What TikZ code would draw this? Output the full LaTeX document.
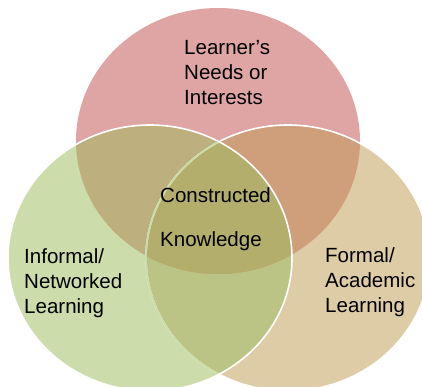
\documentclass[tikz,border=0pt]{standalone}
\usepackage{fontspec}
\setmainfont{Liberation Sans}
\definecolor{vennpink}{HTML}{DFA5A5}
\definecolor{venngreen}{HTML}{CDDCAB}
\definecolor{venntan}{HTML}{DECCA7}
\definecolor{pinkgreen}{HTML}{BDB07E}
\definecolor{pinktan}{HTML}{CF9F7B}
\definecolor{greentan}{HTML}{BBC484}
\definecolor{vennmiddle}{HTML}{B4AE6C}
\definecolor{tanedge}{HTML}{C8DCA5}
\tikzstyle{venntext}=[anchor=north west,inner sep=0pt,align=left,font=\fontsize{20.6}{25.4}\selectfont]
\tikzstyle{vennedge}=[draw=white,line width=1.6bp]

\begin{document}
\begin{tikzpicture}[x=1bp,y=-1bp]
    \useasboundingbox (0,0) rectangle (422,387);
    \clip (0,0) rectangle (422,387);
    \def\learnerpath{(218,141) ellipse [x radius=142bp,y radius=133bp]}
    \def\informalpath{(150,258) ellipse [x radius=142bp,y radius=133bp]}
    \def\formalpath{(288,258) ellipse [x radius=142bp,y radius=133bp]}

    % plain circles
    \fill[vennpink] \learnerpath;
    \fill[venntan] \formalpath;
    \fill[venngreen] \informalpath;
    % overlaps
    \begin{scope}
        \clip \informalpath;
        \fill[greentan] \formalpath;
    \end{scope}
    \begin{scope}
        \clip \learnerpath;
        \fill[pinkgreen] \informalpath;
        \fill[pinktan] \formalpath;
        \clip \informalpath;
        \fill[vennmiddle] \formalpath;
    \end{scope}
    % rims
    \draw[vennedge] \formalpath;
    \begin{scope}
        \clip \informalpath;
        \draw[vennedge,draw=tanedge] \formalpath;
    \end{scope}
    \draw[vennedge] \informalpath;

    \node[venntext] (needs) at (184,40) {Learner’s\\Needs or\\Interests};
    \node[venntext] (knowledge) at (160,187) {Constructed\\[18.8pt]Knowledge};
    \node[venntext] (informal) at (24,248) {Informal/\\Networked\\Learning};
    \node[venntext] (formal) at (325,247) {Formal/\\Academic\\Learning};
\end{tikzpicture}
\end{document}
